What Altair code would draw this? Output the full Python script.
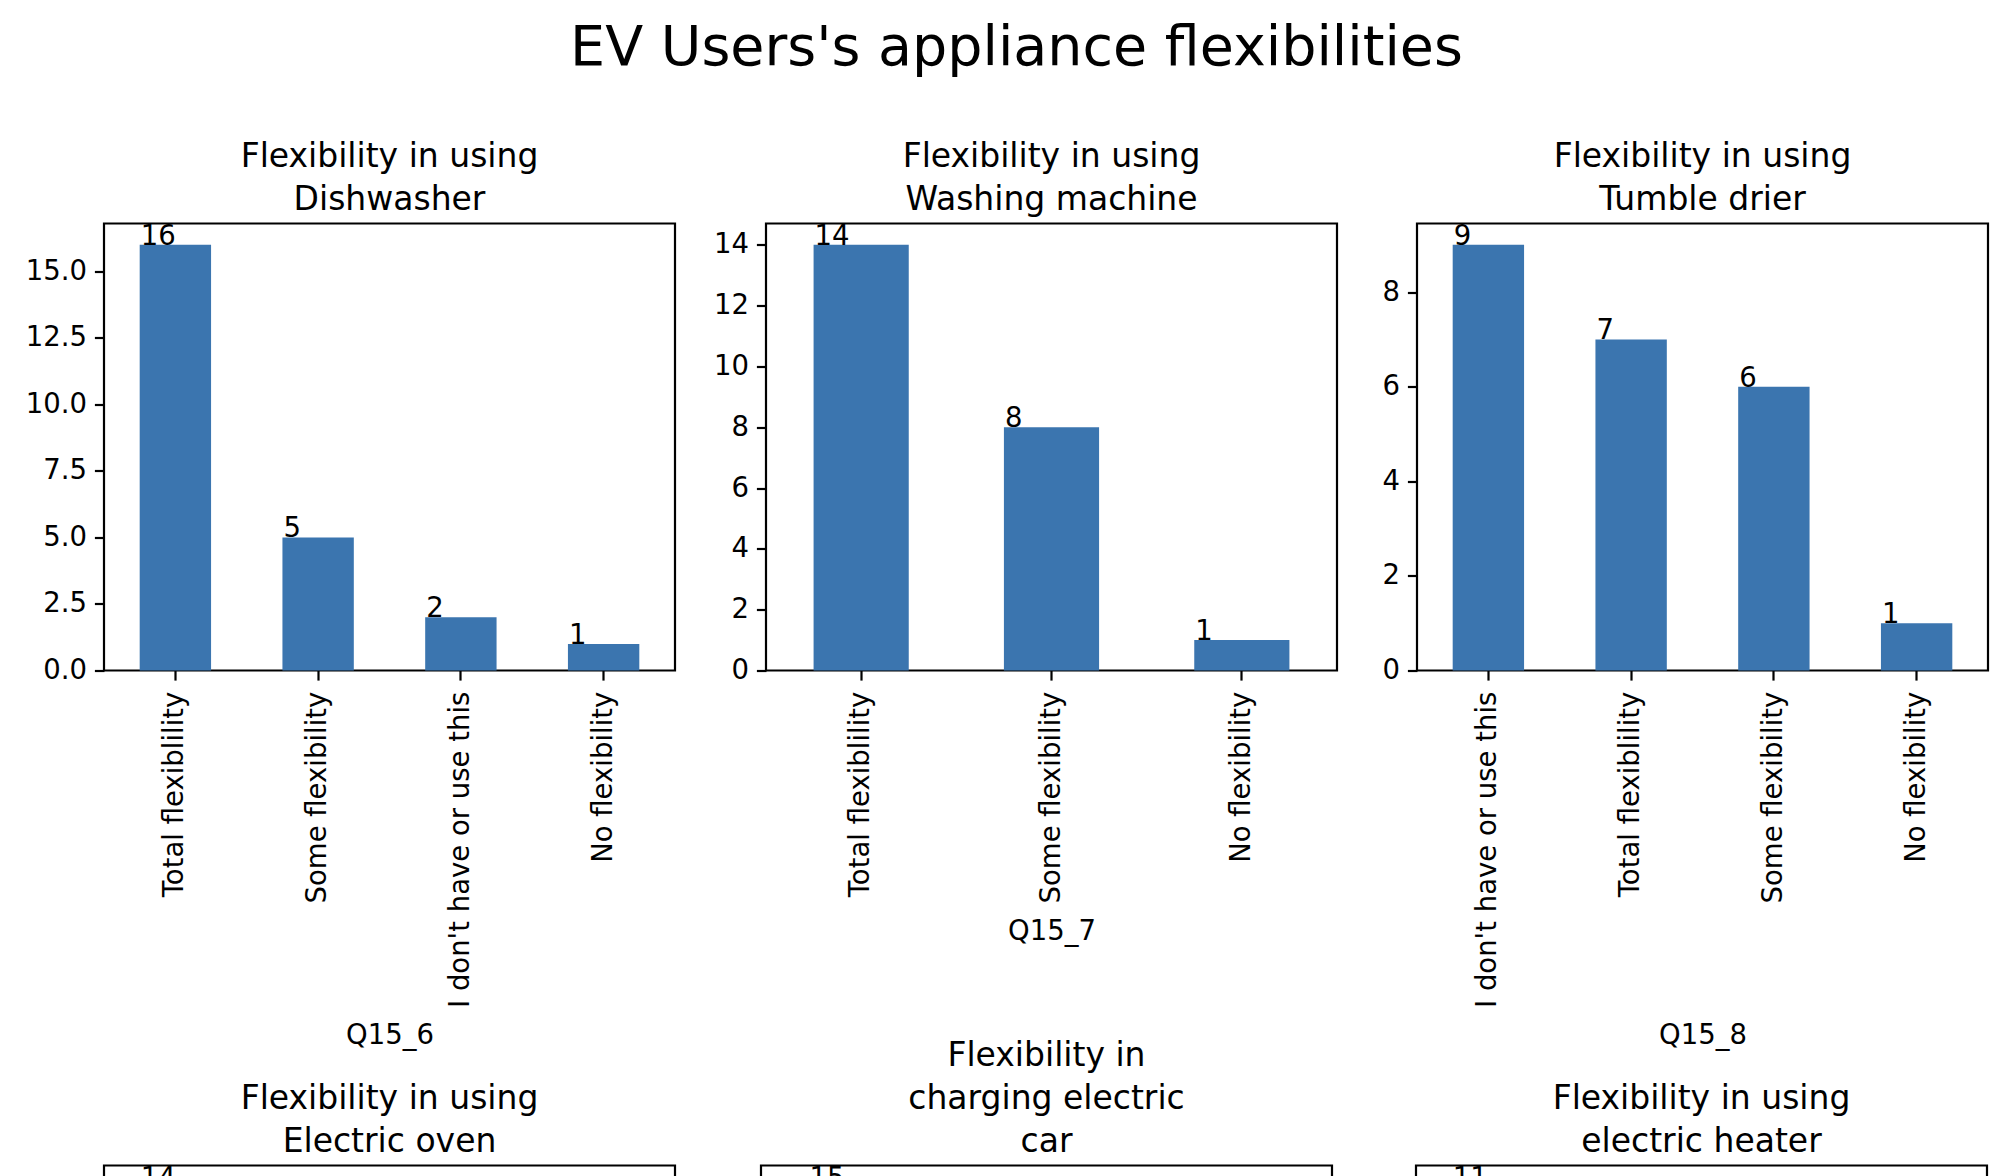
import altair as alt
import pandas as pd

FONT = "DejaVu Sans"
BAR = "#3b75af"

fig_title = "EV Users's appliance flexibilities"

# ---- top row ----
titles_top = [["Flexibility in using", "Dishwasher"],
              ["Flexibility in using", "Washing machine"],
              ["Flexibility in using", "Tumble drier"]]
xtitles_top = ["Q15_6", "Q15_7", "Q15_8"]
cats1 = ["Total flexiblility", "Some flexibility", "I don't have or use this", "No flexibility"]
vals1 = [16, 5, 2, 1]
cats2 = ["Total flexiblility", "Some flexibility", "No flexibility"]
vals2 = [14, 8, 1]
cats3 = ["I don't have or use this", "Total flexiblility", "Some flexibility", "No flexibility"]
vals3 = [9, 7, 6, 1]
yticks1 = [0, 2.5, 5, 7.5, 10, 12.5, 15]
yticks2 = [0, 2, 4, 6, 8, 10, 12, 14]
yticks3 = [0, 2, 4, 6, 8]

# ---- bottom row (only the top of it is visible) ----
titles_bot = [["Flexibility in using", "Electric oven"],
              ["Flexibility in", "charging electric", "car"],
              ["Flexibility in using", "electric heater"]]
slots_bot = [["a1", "a2", "a3", "a4"], ["b1", "b2", "b3"], ["c1", "c2", "c3", "c4"]]
first_vals_bot = [14, 15, 11]

W, H = 571, 447
TICK_FS = 27.5
TITLE_FS = 33
Y_EXTENT_TOP = [79, 47, 41]
Y_EXTENT_BOT = [79, 47, 45]
XTITLE_Y = [351, 247, 351]


def panel(cats, vals, domain, title, xtitle, yticks, fmt, yext, xtitle_y=None,
          show_xlabels=True):
    df = pd.DataFrame({"cat": cats, "val": vals})
    ymax = max(vals) * 1.05
    xscale = alt.Scale(domain=domain, paddingInner=0.5, paddingOuter=0.25)
    xaxis_kw = dict(labelAngle=270, labelLimit=600, labels=show_xlabels, labelPadding=11)
    if xtitle is not None:
        xaxis_kw.update(title=xtitle, titleY=xtitle_y, titleBaseline="top")
    else:
        xaxis_kw.update(title=None)
    xaxis = alt.Axis(**xaxis_kw)
    yscale = alt.Scale(domain=[0, ymax], nice=False, zero=True)
    yaxis = alt.Axis(values=yticks, format=fmt, title=None, labelPadding=8,
                     minExtent=yext, maxExtent=yext)
    bars = alt.Chart(df).mark_bar(color=BAR).encode(
        x=alt.X("cat:N", scale=xscale, axis=xaxis, sort=domain),
        y=alt.Y("val:Q", scale=yscale, axis=yaxis),
    )
    labels = alt.Chart(df).mark_text(
        align="left", baseline="alphabetic", fontSize=TICK_FS, font=FONT,
        color="black", dx=1
    ).encode(
        x=alt.X("cat:N", scale=xscale, sort=domain, bandPosition=0),
        y=alt.Y("val:Q", scale=yscale),
        text="val:Q",
    )
    return alt.layer(bars, labels).properties(
        width=W, height=H,
        title=alt.TitleParams(title, fontSize=TITLE_FS, font=FONT, fontWeight="normal",
                              color="black", lineHeight=43, offset=6, anchor="middle"),
    )


top = alt.hconcat(
    panel(cats1, vals1, cats1, titles_top[0], xtitles_top[0], yticks1, ".1f", Y_EXTENT_TOP[0], XTITLE_Y[0]),
    panel(cats2, vals2, cats2, titles_top[1], xtitles_top[1], yticks2, "d", Y_EXTENT_TOP[1], XTITLE_Y[1]),
    panel(cats3, vals3, cats3, titles_top[2], xtitles_top[2], yticks3, "d", Y_EXTENT_TOP[2], XTITLE_Y[2]),
    spacing=35,
)

bottom = alt.hconcat(
    *[panel([slots_bot[i][0]], [first_vals_bot[i]], slots_bot[i], titles_bot[i], None,
            [0], "d", Y_EXTENT_BOT[i], show_xlabels=False) for i in range(3)],
    spacing=35,
)

chart = alt.vconcat(top, bottom, spacing=-12).properties(
    title=alt.TitleParams(fig_title, fontSize=55.5, font=FONT, fontWeight="normal",
                          color="black", anchor="middle", offset=63.5, dx=10),
    padding={"left": 23, "top": 20.5, "right": 0, "bottom": 0},
    background="white",
).configure_view(
    stroke="black", strokeWidth=2.2
).configure_axis(
    domain=False, grid=False, tickColor="black", tickWidth=2.2, tickSize=9.6,
    labelFont=FONT, labelFontSize=TICK_FS, labelColor="black",
    titleFont=FONT, titleFontSize=TICK_FS, titleColor="black", titleFontWeight="normal",
)

chart.save("out.html", embed_options={"renderer": "svg", "actions": False})
